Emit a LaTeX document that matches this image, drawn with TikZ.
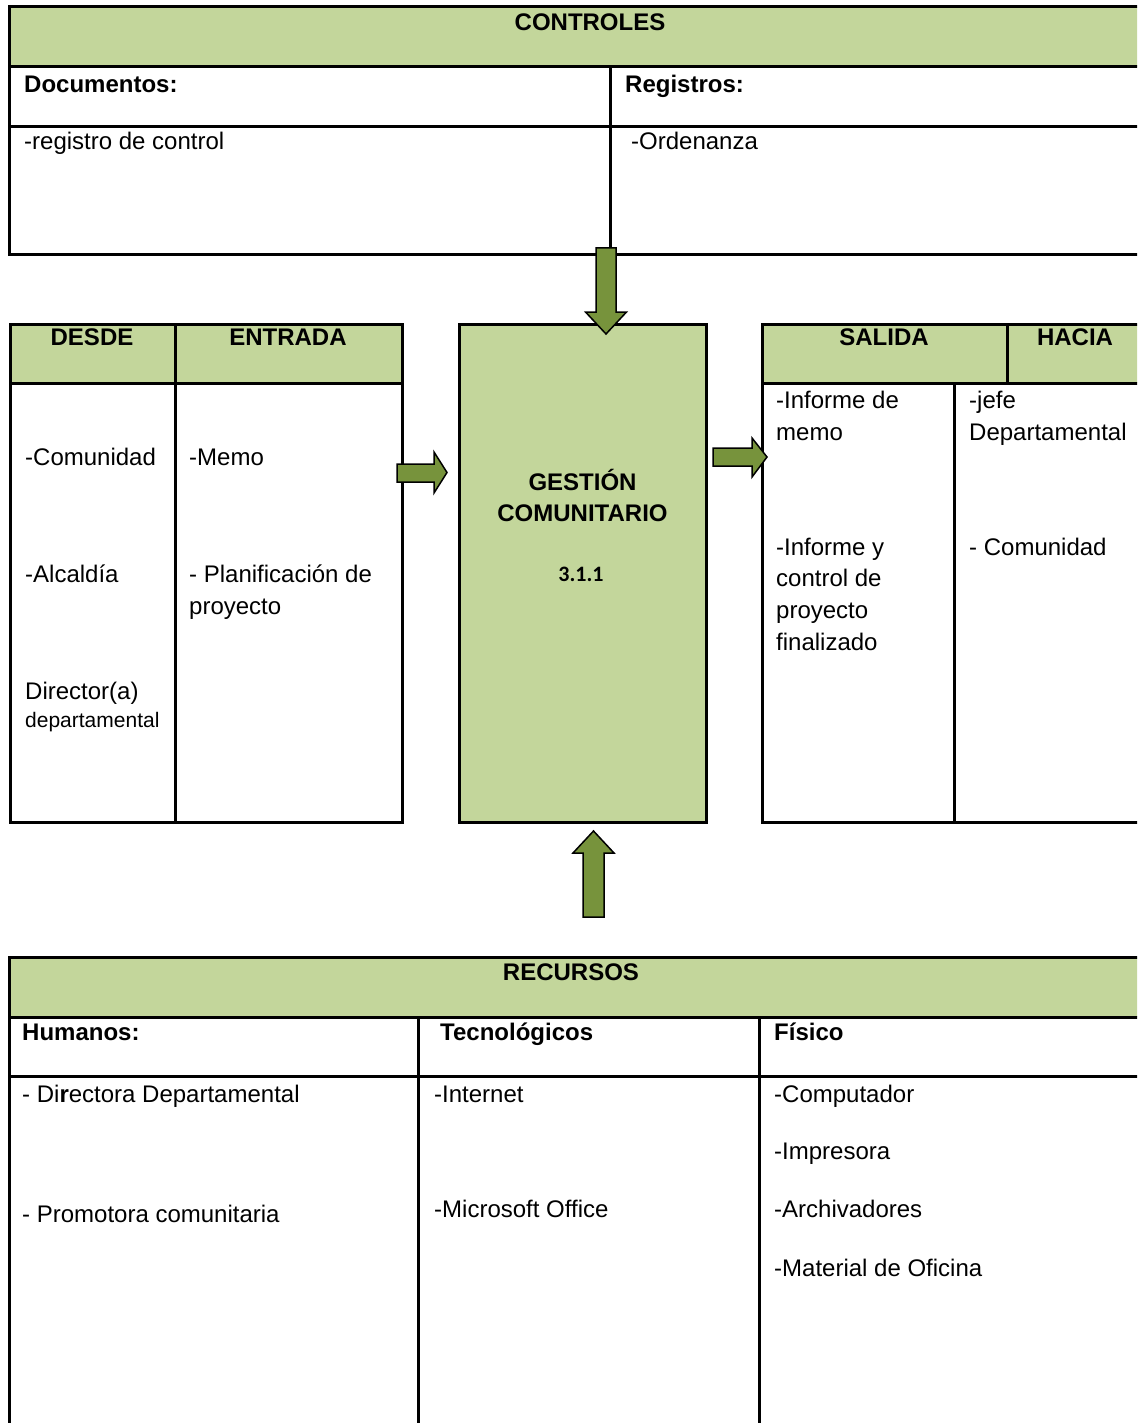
\documentclass[tikz,border=0pt]{standalone}
\usepackage{fontspec}
\setmainfont{Liberation Sans}
\newfontfamily\numfont{Carlito}
\definecolor{hdrgreen}{HTML}{C3D69B}
\definecolor{arrowgreen}{HTML}{77933C}

\begin{document}
\begin{tikzpicture}[x=1pt,y=-1pt,
  rule/.style={line width=3pt,line cap=rect},
  txt/.style={anchor=base west,inner sep=0pt,align=left,
              font=\fontsize{24}{31.7}\selectfont},
  small/.style={txt,font=\fontsize{21}{31.7}\selectfont},
  head/.style={anchor=base,inner sep=0pt,align=center,
               font=\fontsize{24}{31.7}\selectfont\bfseries},
  subhead/.style={anchor=base west,inner sep=0pt,
                  font=\fontsize{24}{31.7}\selectfont\bfseries},
  blockarrow/.style={fill=arrowgreen,draw=black,line width=1.5pt,line join=miter}
]
\useasboundingbox (0,0) rectangle (1137,1423);
\fill[white] (0,0) rectangle (1137,1423);
\clip (0,0) rectangle (1137,1423);

% ---------------- CONTROLES ----------------
\fill[hdrgreen] (9,7) rectangle (1145,67);
\draw[rule] (1145,7) -- (9,7) -- (9,255) -- (1145,255);
\draw[rule] (9,67) -- (1145,67);
\draw[rule] (9,127) -- (1145,127);
\draw[rule] (610,67) -- (610,255);
\node[head] (ctrl) at (590,31) {CONTROLES};
\node[subhead] (docs) at (24,93) {Documentos:};
\node[subhead] (regs) at (625,93) {Registros:};
\node[txt] (docs1) at (24,149.5) {-registro de control};
\node[txt] (regs1) at (631,149.5) {-Ordenanza};

% ---------------- DESDE / ENTRADA ----------------
% (multi-line nodes are placed by the baseline of their last line)
\fill[hdrgreen] (10,324) rectangle (402,383);
\draw[rule] (10,324) rectangle (402,822);
\draw[rule] (10,383) -- (402,383);
\draw[rule] (175,324) -- (175,822);
\node[head] (desde) at (92,345.6) {DESDE};
\node[head] (entrada) at (288,345.6) {ENTRADA};
\node[txt] (from1) at (25,465.6) {-Comunidad};
\node[txt] (from2) at (25,582.6) {-Alcaldía};
\node[txt] (from3) at (25,699.6) {Director(a)};
\node[small] (from3b) at (25,727.5) {departamental};
\node[txt] (in1) at (189,465.6) {-Memo};
\node[txt] (in2) at (189,614.3) {- Planificación de\\proyecto};

% ---------------- PROCESO ----------------
\draw[rule,fill=hdrgreen] (459,324) rectangle (706,822);
\node[head] (proc) at (582.5,521.7) {GESTIÓN\\COMUNITARIO};
\node[anchor=base,inner sep=0pt,font=\numfont\fontsize{22}{24}\selectfont\bfseries]
  (code) at (581,581.7) {3.1.1};

% ---------------- SALIDA / HACIA ----------------
\fill[hdrgreen] (762,324) rectangle (1145,383);
\draw[rule] (1145,324) -- (762,324) -- (762,822) -- (1145,822);
\draw[rule] (762,383) -- (1145,383);
\draw[rule] (1007,324) -- (1007,383);
\draw[rule] (954,383) -- (954,822);
\node[head] (salida) at (884,345.6) {SALIDA};
\node[head] (hacia) at (1075,345.6) {HACIA};
\node[txt] (out1) at (776,440) {-Informe de\\memo};
\node[txt] (out2) at (776,650.1) {-Informe y\\control de\\proyecto\\finalizado};
\node[txt] (to1) at (969,440) {-jefe\\Departamental};
\node[txt] (to2) at (969,555) {- Comunidad};

% ---------------- RECURSOS ----------------
\fill[hdrgreen] (9,957) rectangle (1145,1017);
\draw[rule] (1145,957) -- (9,957) -- (9,1430);
\draw[rule] (9,1017) -- (1145,1017);
\draw[rule] (9,1076) -- (1145,1076);
\draw[rule] (418,1017) -- (418,1430);
\draw[rule] (759,1017) -- (759,1430);
\node[head] (rec) at (571,980.6) {RECURSOS};
\node[subhead] (hum) at (22,1040) {Humanos:};
\node[subhead] (tec) at (440,1040) {Tecnológicos};
\node[subhead] (fis) at (774,1040) {Físico};
\node[txt] (hum1) at (22,1102) {- Di\textbf{r}ectora Departamental};
\node[txt] (hum2) at (22,1222.5) {- Promotora comunitaria};
\node[txt] (tec1) at (434,1102) {-Internet};
\node[txt] (tec2) at (434,1217.5) {-Microsoft Office};
\node[txt] (fis1) at (774,1102) {-Computador};
\node[txt] (fis2) at (774,1159) {-Impresora};
\node[txt] (fis3) at (774,1217.5) {-Archivadores};
\node[txt] (fis4) at (774,1276) {-Material de Oficina};

% ---------------- block arrows ----------------
% controls -> process
\draw[blockarrow] (596,248) -- (616,248) -- (616,312) -- (626.5,312)
  -- (606,334) -- (585.5,312) -- (596,312) -- cycle;
% resources -> process
\draw[blockarrow] (583,917) -- (604,917) -- (604,853) -- (614,853)
  -- (593.5,831) -- (573,853) -- (583,853) -- cycle;
% input -> process
\draw[blockarrow] (397,464) -- (434,464) -- (434,452) -- (447,472.5)
  -- (434,493) -- (434,482) -- (397,482) -- cycle;
% process -> output
\draw[blockarrow] (713,448) -- (752,448) -- (752,438) -- (767,457)
  -- (752,477) -- (752,466) -- (713,466) -- cycle;
\end{tikzpicture}
\end{document}
